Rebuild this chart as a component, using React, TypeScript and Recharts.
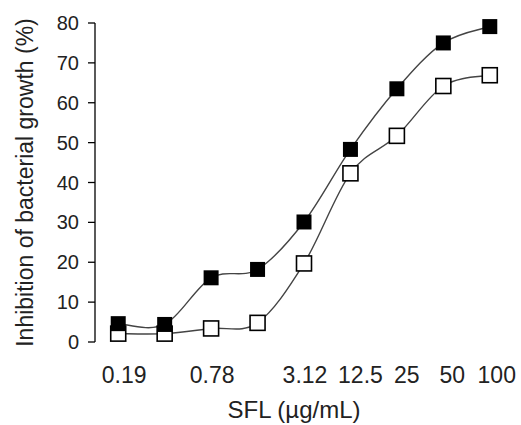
import React from 'react';
import { LineChart, Line, XAxis, YAxis } from 'recharts';

// dose labels as printed under the axis (blank where no label was printed)
const doseLabels = ['0.19', '', '0.78', '', '3.12', '12.5', '25', '50', '100'];
const filledSeries = [4.6, 4.4, 16.1, 18.2, 30.1, 48.3, 63.5, 75, 79.1];
const openSeries = [2.1, 2.1, 3.4, 4.8, 19.7, 42.3, 51.7, 64.2, 66.9];
const yTicks = [0, 10, 20, 30, 40, 50, 60, 70, 80];

const data = doseLabels.map((label, i) => ({
  x: i + 1,
  label,
  filled: filledSeries[i],
  open: openSeries[i],
}));

const boundaryTicks = [...doseLabels.map((_, i) => i + 0.5), doseLabels.length + 0.5];
const labelTicks = data.filter((d) => d.label !== '').map((d) => d.x);

const FONT = '"Liberation Sans", Arial, sans-serif';
const TEXT = '#222';

// the printed labels sit a little right of their points; 3.12/12.5 are spread apart
const labelShift: Record<string, number> = { '0.19': 6, '0.78': 1, '3.12': 1, '12.5': 10, '25': 10, '50': 9, '100': 7 };

// catmull-rom smoothing, like the spreadsheet "smoothed line"
function smoothCurve(context: any) {
  let pts: number[][] = [];
  return {
    areaStart() {},
    areaEnd() {},
    lineStart() {
      pts = [];
    },
    lineEnd() {
      if (!pts.length) return;
      context.moveTo(pts[0][0], pts[0][1]);
      for (let i = 0; i < pts.length - 1; i++) {
        const p0 = pts[i - 1] || pts[i];
        const p1 = pts[i];
        const p2 = pts[i + 1];
        const p3 = pts[i + 2] || p2;
        context.bezierCurveTo(
          p1[0] + (p2[0] - p0[0]) / 6,
          p1[1] + (p2[1] - p0[1]) / 6,
          p2[0] - (p3[0] - p1[0]) / 6,
          p2[1] - (p3[1] - p1[1]) / 6,
          p2[0],
          p2[1]
        );
      }
    },
    point(x: number, y: number) {
      pts.push([+x, +y]);
    },
  };
}

const SquareDot = (filled: boolean) => (props: any) => {
  const { cx, cy, index } = props;
  if (cx == null || cy == null) return <g key={index} />;
  const s = 15;
  return (
    <rect
      key={index}
      x={cx - s / 2}
      y={cy - s / 2}
      width={s}
      height={s}
      fill={filled ? '#000' : '#fff'}
      stroke="#000"
      strokeWidth={filled ? 0 : 1.6}
    />
  );
};

const DoseTick = (props: any) => {
  const { x, y, payload } = props;
  const text = doseLabels[payload.value - 1];
  return (
    <text
      x={x + (labelShift[text] ?? 0)}
      y={y}
      dy="0.71em"
      textAnchor="middle"
      fontSize={23}
      fill={TEXT}
      fontFamily={FONT}
    >
      {text}
    </text>
  );
};

export default function App() {
  return (
    <div style={{ position: 'absolute', left: 0, top: 0, background: '#fff' }}>
      <LineChart
        width={521}
        height={425}
        data={data}
        margin={{ top: 23, right: 8, bottom: 7, left: 0 }}
        style={{ fontFamily: FONT }}
      >
        <XAxis
          xAxisId="grid"
          dataKey="x"
          type="number"
          domain={[0.5, doseLabels.length + 0.5]}
          ticks={boundaryTicks}
          tick={false}
          tickSize={7}
          height={0}
          axisLine={{ stroke: '#000', strokeWidth: 1.3 }}
          tickLine={{ stroke: '#000', strokeWidth: 1.3 }}
        />
        <XAxis
          xAxisId="labels"
          dataKey="x"
          type="number"
          domain={[0.5, doseLabels.length + 0.5]}
          ticks={labelTicks}
          axisLine={false}
          tickLine={false}
          tickSize={6}
          tickMargin={19}
          height={76}
          interval={0}
          tick={<DoseTick />}
          label={{
            value: 'SFL (µg/mL)',
            position: 'insideBottom',
            offset: 0,
            dx: -10,
            style: { fontSize: 24, fill: TEXT, fontFamily: FONT },
          }}
        />
        <YAxis
          domain={[0, 80]}
          ticks={yTicks}
          width={95}
          tickSize={7}
          tickMargin={9}
          interval={0}
          axisLine={{ stroke: '#000', strokeWidth: 1.3 }}
          tickLine={{ stroke: '#000', strokeWidth: 1.3 }}
          tick={{ fontSize: 20, fill: TEXT, fontFamily: FONT }}
          label={{
            value: 'Inhibition of bacterial growth (%)',
            angle: -90,
            position: 'insideLeft',
            offset: 25,
            style: { fontSize: 23, fill: TEXT, fontFamily: FONT, textAnchor: 'middle' },
          }}
        />
        <Line
          xAxisId="grid"
          dataKey="open"
          type={smoothCurve as any}
          stroke="#444"
          strokeWidth={1.4}
          dot={SquareDot(false)}
          activeDot={false}
          isAnimationActive={false}
        />
        <Line
          xAxisId="grid"
          dataKey="filled"
          type={smoothCurve as any}
          stroke="#444"
          strokeWidth={1.4}
          dot={SquareDot(true)}
          activeDot={false}
          isAnimationActive={false}
        />
      </LineChart>
    </div>
  );
}
